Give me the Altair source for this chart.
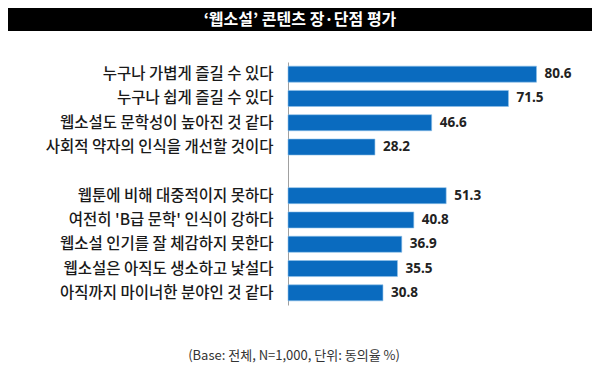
import altair as alt
import pandas as pd

title_text = "‘웹소설’ 콘텐츠 장·단점 평가"
footnote = "(Base: 전체, N=1,000, 단위: 동의율 %)"

categories = [
    "누구나 가볍게 즐길 수 있다",
    "누구나 쉽게 즐길 수 있다",
    "웹소설도 문학성이 높아진 것 같다",
    "사회적 약자의 인식을 개선할 것이다",
    "웹툰에 비해 대중적이지 못하다",
    "여전히 'B급 문학' 인식이 강하다",
    "웹소설 인기를 잘 체감하지 못한다",
    "웹소설은 아직도 생소하고 낯설다",
    "아직까지 마이너한 분야인 것 같다",
]
values = [80.6, 71.5, 46.6, 28.2, 51.3, 40.8, 36.9, 35.5, 30.8]

gap_label = " "
y_domain = categories[:4] + [gap_label] + categories[4:]

df = pd.DataFrame({"item": categories, "value": values})
df["label"] = df["value"].map(lambda v: f"{v:.1f}")
one = pd.DataFrame({"t": [title_text], "f": [footnote]})

KR = "Noto Sans CJK KR"

y_enc = alt.Y(
    "item:N",
    sort=y_domain,
    scale=alt.Scale(domain=y_domain, paddingInner=0.34, paddingOuter=0.17),
    axis=alt.Axis(
        title=None, ticks=False, labelFont=KR, labelFontSize=15.5,
        labelFontWeight=500,
        labelColor="#1a1a1a", labelPadding=15, labelLimit=320,
        domainColor="#a0a0a0", domainWidth=1, grid=False,
    ),
)
x_enc = alt.X("value:Q", scale=alt.Scale(domain=[0, 96]), axis=None)

bars = alt.Chart(df).mark_bar(color="#0a6bbf", stroke="#8ec1ea", strokeWidth=0.6).encode(
    y=y_enc, x=x_enc
)
labels = alt.Chart(df).mark_text(
    align="left", baseline="middle", dx=8, font="Noto Sans", fontWeight="bold",
    fontSize=13.5, color="#222222",
).encode(y=y_enc, x=x_enc, text="label:N")

title_bg = alt.Chart(one).mark_rect(color="#000000").encode(
    x=alt.value(-280), x2=alt.value(304), y=alt.value(-54), y2=alt.value(-31)
)
title = alt.Chart(one).mark_text(
    font=KR, fontSize=16, fontWeight="bold", color="#ffffff",
    align="center", baseline="middle",
).encode(x=alt.value(12), y=alt.value(-42.5), text="t:N")
foot = alt.Chart(one).mark_text(
    font=KR, fontSize=13, color="#333333", align="center", baseline="middle",
).encode(x=alt.value(6), y=alt.value(294), text="f:N")

chart = alt.layer(title_bg, title, bars, labels, foot).properties(
    width=296, height=243,
    autosize="none",
    padding={"left": 280, "top": 54, "right": 8, "bottom": 60},
    background="#ffffff",
).configure_view(stroke=None)

chart.save("out.html", embed_options={"renderer": "svg", "actions": False})
